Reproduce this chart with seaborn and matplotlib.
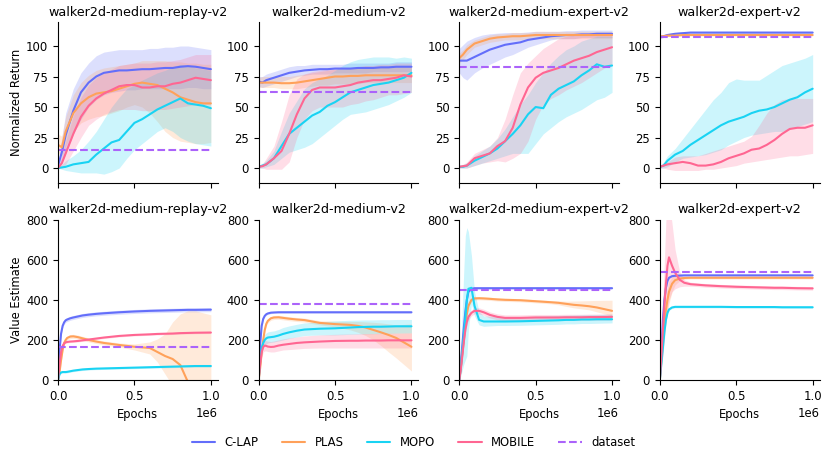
import matplotlib
matplotlib.use("Agg")
import matplotlib.pyplot as plt
import pandas as pd
import seaborn as sns

# ---------------- data ----------------
ENVS = ["walker2d-medium-replay-v2", "walker2d-medium-v2",
        "walker2d-medium-expert-v2", "walker2d-expert-v2"]
METHODS = ["C-LAP", "PLAS", "MOPO", "MOBILE"]
COLORS = {"C-LAP": "#636EFA", "PLAS": "#FFA15A", "MOPO": "#19D3F3",
          "MOBILE": "#FF6692", "dataset": "#AB63FA"}

# epochs (in units of 1e6)
TX = [0, .025, .05, .1, .15, .2, .25, .3, .35, .4, .45, .5, .55, .6, .65, .7, .75, .8, .85, .9, .95, 1.0]
BX = [0, .01, .02, .03, .04, .05, .06, .08, .1, .13, .16, .2, .25, .3, .4, .5, .6, .65, .7, .75, .8, .85, .9, 1.0]

DATASET_RET = [14.6, 62.2, 82.7, 107.4]
DATASET_VAL = [166, 377, 451, 539]

# ---- normalized return: medium-replay ----
R_MR_CLAP = [2, 13, 27, 47, 62, 70, 75, 78, 79, 80, 80, 80.5, 81, 81, 81.5, 82, 82, 83, 83.5, 83, 82, 81]
R_MR_CLAP_LO = [0, 4, 12, 28, 40, 50, 56, 60, 62, 63, 64, 64, 65, 65, 65, 65, 65, 65, 66, 66, 65, 65]
R_MR_CLAP_HI = [4, 25, 45, 65, 78, 86, 92, 95, 96, 97, 97, 97, 97, 98, 98, 99, 99, 100, 100, 99, 98, 97]
R_MR_PLAS = [19, 17, 30, 45, 53, 58, 61, 62, 63, 65, 67, 69, 70, 69, 68, 65, 62, 58, 56, 54, 53, 53]
R_MR_PLAS_LO = [12, 10, 18, 30, 37, 40, 42, 43, 45, 47, 50, 52, 50, 45, 38, 30, 25, 22, 21, 20, 20, 21]
R_MR_PLAS_HI = [28, 26, 42, 60, 70, 76, 80, 82, 83, 84, 85, 86, 88, 88, 88, 88, 87, 87, 86, 86, 85, 85]
R_MR_MOPO = [0, 0.5, 1, 3, 4, 5, 11, 16, 21, 23, 30, 37, 40, 44, 48, 51, 54, 57, 53, 52, 51, 49]
R_MR_MOPO_LO = [0, -1, -2, -3, -4, -4, -4, -5, -3, 0, 8, 15, 20, 25, 30, 33, 30, 25, 22, 20, 19, 18]
R_MR_MOPO_HI = [1, 3, 6, 10, 15, 22, 30, 40, 50, 58, 65, 68, 72, 75, 78, 80, 83, 85, 84, 82, 81, 80]
R_MR_MOBILE = [0, 4, 12, 28, 42, 51, 57, 61, 64, 67, 68, 68, 66, 66, 67, 67, 69, 70, 72, 74, 73, 72]
R_MR_MOBILE_LO = [0, 0, 3, 14, 25, 35, 40, 44, 46, 48, 48, 48, 47, 47, 48, 48, 49, 50, 51, 52, 52, 52]
R_MR_MOBILE_HI = [2, 10, 22, 43, 58, 68, 74, 78, 81, 84, 85, 86, 86, 86, 87, 87, 88, 89, 91, 93, 93, 93]

# ---- normalized return: medium ----
R_M_CLAP = [71, 70, 72, 74, 76, 78, 79, 80, 80.5, 81, 81, 81.5, 81.5, 81.5, 82, 82, 82, 82.5, 82.5, 83, 83, 83]
R_M_CLAP_LO = [67, 66, 67, 69, 71, 73, 75, 76, 77, 77, 77, 78, 78, 78, 78, 78, 79, 79, 79, 79, 79, 79]
R_M_CLAP_HI = [75, 75, 77, 79, 81, 83, 84, 84, 85, 85, 85, 85, 85, 86, 86, 86, 86, 86, 86, 87, 87, 87]
R_M_PLAS = [70, 70, 70, 70, 69.5, 69.5, 70, 71, 72, 73, 74, 75, 75, 75.5, 75.5, 76, 76, 76, 76, 76, 76, 76]
R_M_PLAS_LO = [66, 66, 66, 66, 65, 65, 65, 66, 67, 68, 68, 69, 69, 69, 69, 70, 70, 70, 70, 70, 70, 70]
R_M_PLAS_HI = [74, 75, 75, 75, 75, 75, 76, 77, 78, 79, 80, 81, 81, 82, 82, 82, 83, 83, 83, 83, 83, 83]
R_M_MOPO = [1, 2, 3, 8, 18, 28, 33, 38, 43, 46, 51, 54, 58, 62, 64, 66, 68, 69, 70, 72, 74, 78]
R_M_MOPO_LO = [0, 0, 1, 3, 8, 13, 15, 17, 20, 25, 30, 35, 40, 44, 45, 46, 48, 50, 52, 55, 58, 62]
R_M_MOPO_HI = [2, 4, 6, 14, 30, 45, 55, 65, 70, 73, 76, 80, 84, 87, 89, 90, 91, 91, 91, 90, 91, 90]
R_M_MOBILE = [1, 1.5, 3, 8, 14, 28, 44, 57, 64, 66, 66, 66, 67, 68, 70, 71, 72, 72, 73, 74, 76, 75]
R_M_MOBILE_LO = [0, 0, -1, -1, -1, 5, 25, 40, 47, 50, 50, 50, 50, 52, 53, 55, 56, 58, 60, 60, 61, 62]
R_M_MOBILE_HI = [2, 3, 8, 18, 38, 60, 73, 77, 79, 80, 81, 81, 82, 82, 83, 84, 84, 85, 85, 86, 86, 86]

# ---- normalized return: medium-expert ----
R_ME_CLAP = [88, 88, 88, 91, 94, 97, 99, 101, 102, 103, 105, 106, 107, 108, 108.5, 109, 109, 109.5, 109.5, 110, 110, 110]
R_ME_CLAP_LO = [78, 74, 72, 78, 82, 85, 88, 91, 93, 96, 99, 101, 103, 105, 106, 106, 106, 107, 107, 107, 107, 107]
R_ME_CLAP_HI = [98, 101, 104, 107, 109, 110, 110.5, 111, 111, 111, 111.5, 112, 112, 112, 112, 112.5, 112.5, 113, 113, 113, 113, 113]
R_ME_PLAS = [90, 93, 97, 102, 104, 106, 107, 107.5, 108, 108, 108.5, 109, 109, 109, 109, 109, 109, 109, 109, 109, 109, 109]
R_ME_PLAS_LO = [86, 89, 93, 99, 101, 103, 104, 105, 105, 105, 106, 106, 106, 106, 106, 106, 106, 106, 106, 106, 106, 106]
R_ME_PLAS_HI = [94, 97, 101, 105, 107, 109, 110, 110, 111, 111, 111, 112, 112, 112, 112, 112, 112, 112, 112, 112, 112, 112]
R_ME_MOPO = [1, 1, 2, 6, 9, 12, 16, 22, 28, 35, 44, 50, 49, 60, 65, 68, 71, 76, 80, 85, 83, 84]
R_ME_MOPO_LO = [0, 0, 0, 2, 4, 6, 8, 10, 12, 12, 12, 20, 28, 33, 38, 42, 45, 48, 52, 56, 58, 62]
R_ME_MOPO_HI = [2, 3, 4, 10, 14, 18, 24, 32, 42, 52, 60, 70, 78, 86, 92, 97, 100, 104, 106, 108, 108, 108]
R_ME_MOBILE = [1, 1.5, 2, 8, 10, 12, 18, 22, 33, 52, 66, 74, 78, 80, 82, 85, 88, 90, 92, 95, 97, 99]
R_ME_MOBILE_LO = [0, 0, 0, 2, 4, 5, 6, 5, 8, 12, 22, 40, 52, 57, 60, 64, 67, 70, 74, 78, 82, 85]
R_ME_MOBILE_HI = [2, 3, 5, 12, 15, 18, 25, 40, 60, 78, 86, 92, 98, 102, 106, 108, 109, 110, 110, 111, 111, 111]

# ---- normalized return: expert ----
R_E_CLAP = [107, 108, 109, 110, 110.5, 111, 111, 111, 111, 111, 111, 111, 111, 111, 111, 111, 111, 111, 111, 111, 111, 111]
R_E_CLAP_LO = [106, 107, 108, 109, 109.5, 110, 110, 110, 110, 110, 110, 110, 110, 110, 110, 110, 110, 110, 110, 110, 110, 110]
R_E_CLAP_HI = [108, 109, 110, 111, 111.5, 112, 112, 112, 112, 112, 112, 112, 112, 112, 112, 112, 112, 112, 112, 112, 112, 112]
R_E_PLAS = [108, 108, 108.5, 108.5, 109, 109, 109, 109, 109, 109, 109, 109, 109, 109, 109, 109, 109, 109, 109, 109, 109, 109]
R_E_PLAS_LO = [107.3, 107.3, 107.8, 107.8, 108.3, 108.3, 108.3, 108.3, 108.3, 108.3, 108.3, 108.3, 108.3, 108.3, 108.3, 108.3, 108.3, 108.3, 108.3, 108.3, 108.3, 108.3]
R_E_PLAS_HI = [108.7, 108.7, 109.2, 109.2, 109.7, 109.7, 109.7, 109.7, 109.7, 109.7, 109.7, 109.7, 109.7, 109.7, 109.7, 109.7, 109.7, 109.7, 109.7, 109.7, 109.7, 109.7]
R_E_MOPO = [1, 2, 6, 11, 14, 19, 23, 27, 31, 35, 38, 40, 42, 45, 47, 48, 50, 53, 56, 58, 62, 65]
R_E_MOPO_LO = [0, 0, 1, 5, 8, 9, 10, 11, 13, 15, 19, 22, 25, 27, 28, 29, 30, 30, 32, 34, 36, 38]
R_E_MOPO_HI = [2, 5, 10, 16, 24, 32, 40, 48, 56, 62, 70, 73, 72, 72, 72, 76, 80, 84, 86, 88, 90, 93]
R_E_MOBILE = [1, 2, 3, 4, 5, 4, 2, 2, 3, 5, 8, 10, 12, 15, 16, 19, 23, 28, 32, 33, 33, 35]
R_E_MOBILE_LO = [0, 0, -1, -2, -2, -2, -2, -1, -1, 0, 1, 2, 4, 5, 6, 7, 8, 9, 10, 10, 11, 12]
R_E_MOBILE_HI = [2, 3, 5, 9, 10, 10, 10, 12, 14, 16, 18, 20, 22, 26, 35, 45, 52, 56, 57, 57, 57, 57]

# ---- value estimate: medium-replay ----
V_MR_CLAP = [0, 150, 232, 270, 288, 298, 302, 308, 312, 317, 322, 326, 330, 333, 338, 342, 345, 346, 347, 348, 349, 350, 350, 351]
V_MR_CLAP_LO = [0, 140, 222, 260, 278, 288, 292, 298, 302, 307, 312, 316, 320, 323, 328, 332, 335, 336, 337, 338, 339, 340, 340, 341]
V_MR_CLAP_HI = [0, 160, 242, 280, 298, 308, 312, 318, 322, 327, 332, 336, 340, 343, 348, 352, 355, 356, 357, 358, 359, 360, 360, 361]
V_MR_PLAS = [0, 40, 100, 150, 185, 200, 210, 217, 218, 214, 208, 200, 192, 185, 175, 166, 160, 140, 120, 105, 75, -10, -80, -200]
V_MR_PLAS_LO = [0, 30, 88, 138, 173, 190, 200, 207, 208, 204, 198, 190, 182, 175, 165, 150, 130, 90, 30, -30, -100, -150, -200, -300]
V_MR_PLAS_HI = [0, 50, 112, 162, 197, 210, 220, 227, 228, 224, 218, 210, 202, 195, 185, 180, 190, 205, 230, 290, 330, 345, 345, 325]
V_MR_MOPO = [0, 30, 38, 40, 40, 40, 41, 44, 47, 50, 53, 55, 57, 58, 60, 62, 64, 65, 66, 67, 68, 69, 70, 70]
V_MR_MOPO_LO = [0, 25, 33, 35, 35, 35, 36, 39, 42, 45, 48, 50, 52, 53, 55, 57, 59, 60, 61, 62, 63, 64, 65, 65]
V_MR_MOPO_HI = [0, 35, 43, 45, 45, 45, 46, 49, 52, 55, 58, 60, 62, 63, 65, 67, 69, 70, 71, 72, 73, 74, 75, 75]
V_MR_MOBILE = [0, 80, 140, 170, 183, 188, 190, 192, 193, 195, 198, 202, 207, 212, 220, 225, 228, 230, 231, 232, 234, 235, 236, 237]
V_MR_MOBILE_LO = [0, 75, 135, 165, 178, 183, 185, 187, 188, 190, 193, 197, 202, 207, 215, 220, 223, 225, 226, 227, 229, 230, 231, 232]
V_MR_MOBILE_HI = [0, 85, 145, 175, 188, 193, 195, 197, 198, 200, 203, 207, 212, 217, 225, 230, 233, 235, 236, 237, 239, 240, 241, 242]

# ---- value estimate: medium ----
V_M_CLAP = [0, 180, 270, 305, 320, 328, 332, 336, 337, 338, 338, 338, 338, 338, 338, 338, 338, 338, 338, 338, 338, 338, 338, 338]
V_M_CLAP_LO = [0, 175, 265, 300, 315, 323, 327, 331, 333, 334, 334, 334, 334, 334, 334, 334, 334, 334, 334, 334, 334, 334, 334, 334]
V_M_CLAP_HI = [0, 185, 275, 310, 325, 333, 337, 341, 341, 342, 342, 342, 342, 342, 342, 342, 342, 342, 342, 342, 342, 342, 342, 342]
V_M_PLAS = [0, 60, 140, 200, 250, 280, 295, 308, 312, 313, 310, 306, 302, 299, 285, 279, 275, 270, 262, 250, 238, 225, 210, 166]
V_M_PLAS_LO = [0, 50, 130, 190, 240, 270, 285, 298, 302, 303, 300, 296, 292, 289, 275, 265, 250, 238, 222, 200, 172, 140, 110, 45]
V_M_PLAS_HI = [0, 70, 150, 210, 260, 290, 305, 318, 322, 323, 320, 316, 312, 309, 296, 293, 292, 292, 290, 288, 285, 280, 275, 280]
V_M_MOPO = [0, 100, 160, 185, 200, 208, 212, 214, 216, 222, 230, 238, 246, 252, 256, 258, 262, 264, 265, 266, 266, 267, 268, 268]
V_M_MOPO_LO = [0, 80, 130, 160, 175, 180, 185, 188, 190, 195, 200, 208, 215, 222, 225, 225, 228, 229, 230, 231, 232, 233, 234, 235]
V_M_MOPO_HI = [0, 120, 190, 215, 228, 235, 240, 243, 245, 252, 262, 270, 278, 285, 290, 295, 298, 299, 300, 300, 301, 301, 302, 302]
V_M_MOBILE = [0, 80, 140, 165, 172, 170, 167, 165, 166, 172, 176, 180, 185, 188, 192, 195, 196, 196, 197, 197, 197, 198, 198, 198]
V_M_MOBILE_LO = [0, 60, 110, 140, 145, 145, 142, 140, 140, 145, 150, 152, 155, 158, 160, 160, 160, 160, 160, 160, 160, 160, 160, 160]
V_M_MOBILE_HI = [0, 100, 170, 190, 198, 196, 194, 192, 195, 200, 205, 210, 215, 220, 225, 228, 230, 231, 232, 232, 233, 234, 234, 235]

# ---- value estimate: medium-expert ----
V_ME_CLAP = [0, 80, 170, 260, 340, 400, 440, 455, 458, 458, 458, 458, 458, 458, 458, 458, 458, 458, 458, 458, 458, 458, 458, 458]
V_ME_CLAP_LO = [0, 76, 166, 256, 336, 396, 436, 451, 454, 454, 454, 454, 454, 454, 454, 454, 454, 454, 454, 454, 454, 454, 454, 454]
V_ME_CLAP_HI = [0, 84, 174, 264, 344, 404, 444, 459, 462, 462, 462, 462, 462, 462, 462, 462, 462, 462, 462, 462, 462, 462, 462, 462]
V_ME_PLAS = [0, 60, 130, 200, 270, 330, 370, 400, 407, 408, 407, 405, 402, 400, 398, 393, 388, 385, 380, 375, 372, 368, 362, 345]
V_ME_PLAS_LO = [0, 52, 122, 192, 262, 322, 362, 392, 399, 400, 399, 397, 394, 392, 390, 385, 380, 375, 367, 360, 355, 350, 340, 320]
V_ME_PLAS_HI = [0, 68, 138, 208, 278, 338, 378, 408, 415, 416, 415, 413, 410, 408, 406, 401, 396, 395, 393, 394, 395, 396, 397, 398]
V_ME_MOPO = [0, 60, 140, 220, 310, 400, 455, 460, 370, 300, 292, 292, 292, 292, 293, 295, 297, 298, 300, 300, 302, 302, 303, 303]
V_ME_MOPO_LO = [0, 20, 50, 80, 100, 120, 250, 380, 320, 275, 268, 270, 272, 272, 273, 275, 277, 278, 280, 280, 282, 282, 283, 285]
V_ME_MOPO_HI = [0, 150, 350, 550, 720, 760, 740, 620, 440, 340, 320, 318, 316, 315, 316, 318, 320, 322, 323, 324, 325, 326, 327, 328]
V_ME_MOBILE = [0, 50, 120, 190, 250, 290, 315, 335, 345, 345, 338, 325, 315, 310, 310, 312, 312, 312, 313, 313, 313, 314, 314, 315]
V_ME_MOBILE_LO = [0, 35, 105, 175, 235, 275, 300, 320, 330, 330, 323, 310, 300, 295, 295, 297, 297, 297, 298, 298, 298, 299, 299, 300]
V_ME_MOBILE_HI = [0, 65, 135, 205, 265, 305, 330, 350, 360, 360, 353, 340, 330, 325, 325, 327, 327, 327, 328, 328, 328, 329, 329, 330]

# ---- value estimate: expert ----
V_E_CLAP = [0, 150, 300, 400, 460, 495, 510, 518, 520, 521, 522, 522, 522, 522, 522, 522, 522, 522, 522, 522, 522, 522, 522, 522]
V_E_CLAP_LO = [0, 145, 295, 395, 455, 490, 505, 514, 516, 517, 518, 518, 518, 518, 518, 518, 518, 518, 518, 518, 518, 518, 518, 518]
V_E_CLAP_HI = [0, 155, 305, 405, 465, 500, 515, 522, 524, 525, 526, 526, 526, 526, 526, 526, 526, 526, 526, 526, 526, 526, 526, 526]
V_E_PLAS = [0, 100, 200, 280, 350, 400, 440, 480, 498, 506, 509, 510, 510, 510, 510, 510, 510, 510, 510, 510, 510, 510, 510, 510]
V_E_PLAS_LO = [0, 70, 150, 220, 290, 340, 380, 440, 475, 495, 502, 504, 504, 504, 504, 504, 504, 504, 504, 504, 504, 504, 504, 504]
V_E_PLAS_HI = [0, 130, 250, 340, 410, 460, 490, 515, 520, 517, 516, 516, 516, 516, 516, 516, 516, 516, 516, 516, 516, 516, 516, 516]
V_E_MOPO = [0, 80, 160, 240, 300, 335, 352, 362, 365, 365, 365, 365, 365, 365, 365, 364, 364, 364, 364, 364, 363, 363, 363, 363]
V_E_MOPO_LO = [0, 75, 155, 235, 295, 330, 347, 357, 360, 360, 360, 360, 360, 360, 360, 359, 359, 359, 359, 359, 358, 358, 358, 358]
V_E_MOPO_HI = [0, 85, 165, 245, 305, 340, 357, 367, 370, 370, 370, 370, 370, 370, 370, 369, 369, 369, 369, 369, 368, 368, 368, 368]
V_E_MOBILE = [0, 120, 250, 370, 480, 570, 612, 570, 535, 500, 485, 478, 475, 472, 468, 465, 463, 462, 461, 460, 460, 459, 458, 457]
V_E_MOBILE_LO = [0, 60, 120, 200, 280, 350, 400, 440, 455, 465, 468, 468, 466, 463, 459, 456, 454, 453, 452, 451, 451, 450, 449, 448]
V_E_MOBILE_HI = [0, 200, 400, 600, 800, 900, 900, 780, 650, 540, 500, 488, 484, 481, 477, 474, 472, 471, 470, 469, 469, 468, 467, 466]

RETURN_PANELS = [
    {"C-LAP": (R_MR_CLAP, R_MR_CLAP_LO, R_MR_CLAP_HI), "PLAS": (R_MR_PLAS, R_MR_PLAS_LO, R_MR_PLAS_HI),
     "MOPO": (R_MR_MOPO, R_MR_MOPO_LO, R_MR_MOPO_HI), "MOBILE": (R_MR_MOBILE, R_MR_MOBILE_LO, R_MR_MOBILE_HI)},
    {"C-LAP": (R_M_CLAP, R_M_CLAP_LO, R_M_CLAP_HI), "PLAS": (R_M_PLAS, R_M_PLAS_LO, R_M_PLAS_HI),
     "MOPO": (R_M_MOPO, R_M_MOPO_LO, R_M_MOPO_HI), "MOBILE": (R_M_MOBILE, R_M_MOBILE_LO, R_M_MOBILE_HI)},
    {"C-LAP": (R_ME_CLAP, R_ME_CLAP_LO, R_ME_CLAP_HI), "PLAS": (R_ME_PLAS, R_ME_PLAS_LO, R_ME_PLAS_HI),
     "MOPO": (R_ME_MOPO, R_ME_MOPO_LO, R_ME_MOPO_HI), "MOBILE": (R_ME_MOBILE, R_ME_MOBILE_LO, R_ME_MOBILE_HI)},
    {"C-LAP": (R_E_CLAP, R_E_CLAP_LO, R_E_CLAP_HI), "PLAS": (R_E_PLAS, R_E_PLAS_LO, R_E_PLAS_HI),
     "MOPO": (R_E_MOPO, R_E_MOPO_LO, R_E_MOPO_HI), "MOBILE": (R_E_MOBILE, R_E_MOBILE_LO, R_E_MOBILE_HI)},
]
VALUE_PANELS = [
    {"C-LAP": (V_MR_CLAP, V_MR_CLAP_LO, V_MR_CLAP_HI), "PLAS": (V_MR_PLAS, V_MR_PLAS_LO, V_MR_PLAS_HI),
     "MOPO": (V_MR_MOPO, V_MR_MOPO_LO, V_MR_MOPO_HI), "MOBILE": (V_MR_MOBILE, V_MR_MOBILE_LO, V_MR_MOBILE_HI)},
    {"C-LAP": (V_M_CLAP, V_M_CLAP_LO, V_M_CLAP_HI), "PLAS": (V_M_PLAS, V_M_PLAS_LO, V_M_PLAS_HI),
     "MOPO": (V_M_MOPO, V_M_MOPO_LO, V_M_MOPO_HI), "MOBILE": (V_M_MOBILE, V_M_MOBILE_LO, V_M_MOBILE_HI)},
    {"C-LAP": (V_ME_CLAP, V_ME_CLAP_LO, V_ME_CLAP_HI), "PLAS": (V_ME_PLAS, V_ME_PLAS_LO, V_ME_PLAS_HI),
     "MOPO": (V_ME_MOPO, V_ME_MOPO_LO, V_ME_MOPO_HI), "MOBILE": (V_ME_MOBILE, V_ME_MOBILE_LO, V_ME_MOBILE_HI)},
    {"C-LAP": (V_E_CLAP, V_E_CLAP_LO, V_E_CLAP_HI), "PLAS": (V_E_PLAS, V_E_PLAS_LO, V_E_PLAS_HI),
     "MOPO": (V_E_MOPO, V_E_MOPO_LO, V_E_MOPO_HI), "MOBILE": (V_E_MOBILE, V_E_MOBILE_LO, V_E_MOBILE_HI)},
]

# ---------------- style ----------------
sns.set_theme(style="ticks", rc={
    "axes.linewidth": 0.8, "xtick.major.size": 3.5, "ytick.major.size": 3.5,
    "xtick.major.width": 0.8, "ytick.major.width": 0.8,
    "axes.edgecolor": "black", "xtick.color": "black", "ytick.color": "black",
    "text.color": "black", "axes.labelcolor": "black",
})
plt.rcParams["font.family"] = ["DejaVu Sans"]
plt.rcParams.update({"xtick.labelsize": 8.4, "ytick.labelsize": 8.4,
                     "axes.labelsize": 8.3, "axes.titlesize": 9.2,
                     "legend.fontsize": 8.4})

fig, axes = plt.subplots(2, 4, figsize=(8.22, 4.53), dpi=100, sharex=True)
fig.subplots_adjust(left=0.0706, right=0.997, top=0.951, bottom=0.161,
                    wspace=0.256, hspace=0.23)


def draw(ax, xs, panel, dataset_val):
    for m in METHODS:
        mean, lo, hi = panel[m]
        x = [v * 1e6 for v in xs]
        df = pd.DataFrame({"Epochs": x, "y": mean})
        ax.fill_between(x, lo, hi, color=COLORS[m], alpha=0.22, linewidth=0)
        sns.lineplot(data=df, x="Epochs", y="y", ax=ax, color=COLORS[m],
                     linewidth=1.5, label=m, legend=False)
    dfd = pd.DataFrame({"Epochs": [0, 1e6], "y": [dataset_val, dataset_val]})
    sns.lineplot(data=dfd, x="Epochs", y="y", ax=ax, color=COLORS["dataset"],
                 linewidth=1.5, linestyle="--", label="dataset", legend=False)


for i, env in enumerate(ENVS):
    ax = axes[0, i]
    draw(ax, TX, RETURN_PANELS[i], DATASET_RET[i])
    ax.set_ylim(-12, 119.5)
    ax.set_yticks([0, 25, 50, 75, 100])
    ax.set_title(env, pad=4.5)
    ax.set_xlabel("")
    ax.set_ylabel("Normalized Return" if i == 0 else "", labelpad=2)

    ax = axes[1, i]
    draw(ax, BX, VALUE_PANELS[i], DATASET_VAL[i])
    ax.set_ylim(0, 800)
    ax.set_yticks([0, 200, 400, 600, 800])
    ax.set_title(env, pad=4.5)
    ax.set_xlabel("Epochs")
    ax.set_ylabel("Value Estimate" if i == 0 else "", labelpad=2)

for ax in axes.flat:
    ax.set_xlim(0, 1.045e6)
    ax.set_xticks([0, 0.5e6, 1e6])
    sns.despine(ax=ax)

handles, labels = axes[0, 0].get_legend_handles_labels()
fig.legend(handles, labels, loc="lower center", ncol=5, frameon=False,
           bbox_to_anchor=(0.503, -0.014))

fig.savefig("out.png", dpi=100)
